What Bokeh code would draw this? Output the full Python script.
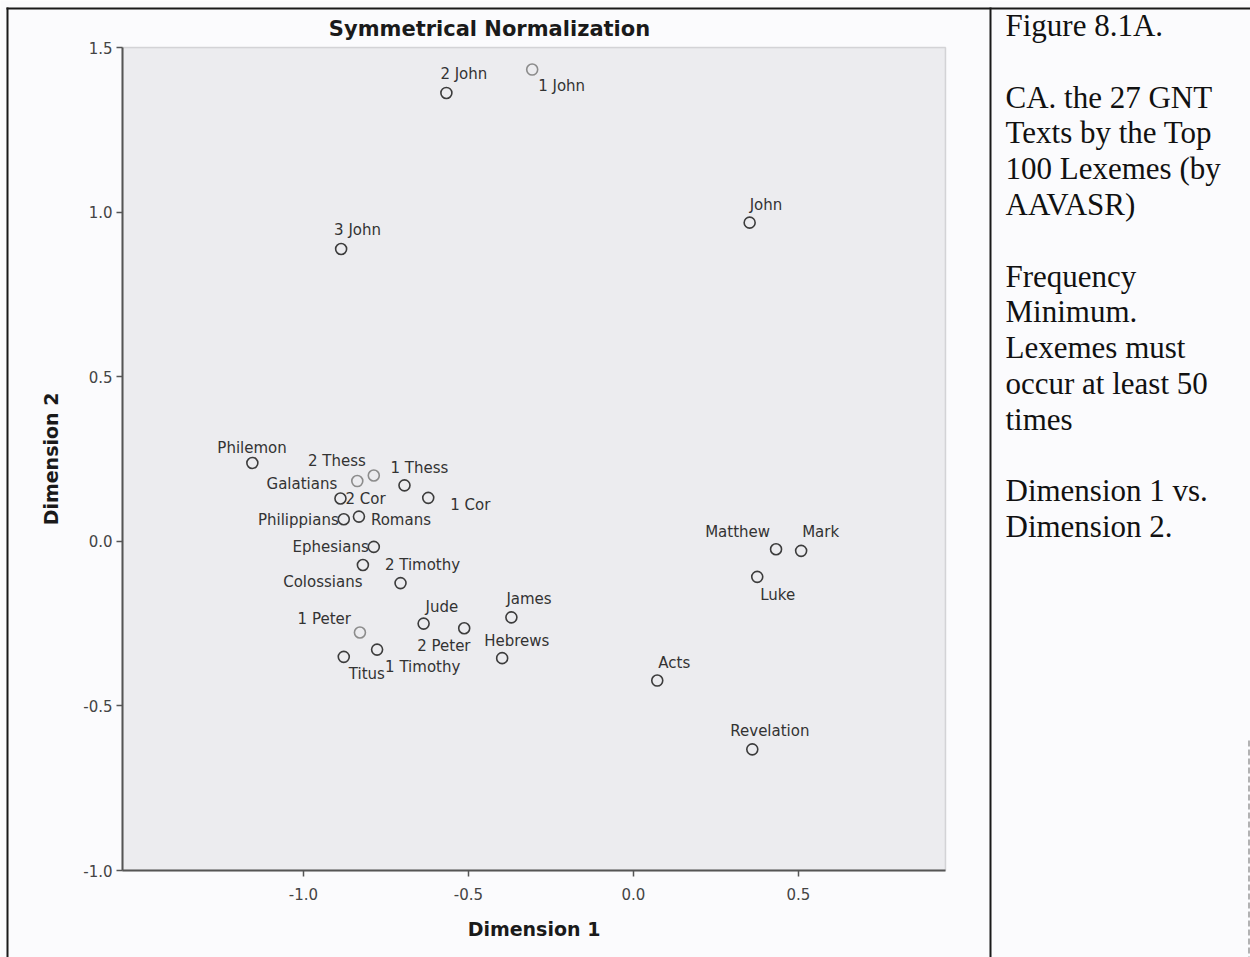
from bokeh.plotting import figure
from bokeh.models import (ColumnDataSource, Range1d, FixedTicker, PrintfTickFormatter,
                          LinearAxis, BoxAnnotation)
from bokeh.embed import file_html
from bokeh.resources import INLINE
from bokeh.core.properties import value

# Correspondence analysis: 27 GNT texts, row scores on dimensions 1 and 2
books = ["1 John", "2 John", "3 John", "John", "Philemon", "2 Thess", "Galatians",
         "1 Thess", "2 Cor", "1 Cor", "Philippians", "Romans", "Ephesians",
         "2 Timothy", "Colossians", "Jude", "2 Peter", "1 Peter", "Titus",
         "1 Timothy", "James", "Hebrews", "Acts", "Matthew", "Mark", "Luke",
         "Revelation"]
dim1 = [-0.307, -0.567, -0.886, 0.352, -1.155, -0.787, -0.837,
        -0.694, -0.888, -0.622, -0.878, -0.832, -0.787,
        -0.820, -0.706, -0.636, -0.513, -0.829, -0.878,
        -0.777, -0.370, -0.398, 0.072, 0.432, 0.508, 0.375,
        0.360]
dim2 = [1.433, 1.362, 0.888, 0.968, 0.238, 0.200, 0.183,
        0.170, 0.130, 0.132, 0.067, 0.075, -0.017,
        -0.072, -0.127, -0.250, -0.264, -0.277, -0.351,
        -0.329, -0.231, -0.355, -0.423, -0.024, -0.029, -0.108,
        -0.632]

x_ticks = [-1.0, -0.5, 0.0, 0.5]
y_ticks = [-1.0, -0.5, 0.0, 0.5, 1.0, 1.5]
x_span = (-1.5485, 0.9455)      # extent of the plotting box, dimension 1
y_span = (-1.0, 1.5)            # extent of the plotting box, dimension 2

title = "Symmetrical Normalization"
caption = ["Figure 8.1A.", "", "CA. the 27 GNT", "Texts by the Top",
           "100 Lexemes (by", "AAVASR)", "", "Frequency", "Minimum.",
           "Lexemes must", "occur at least 50", "times", "",
           "Dimension 1 vs.", "Dimension 2."]

# label placement around each point: (align, dx px, dy px; +dy is downward)
label_place = {
    "1 John": ("left", 6, 16), "2 John": ("left", -6, -19), "3 John": ("left", -7, -19),
    "John": ("left", 0, -18), "Philemon": ("left", -35, -15), "2 Thess": ("right", -8, -14),
    "Galatians": ("right", -20, 3), "1 Thess": ("left", -14, -17), "2 Cor": ("left", 5, 0),
    "1 Cor": ("left", 22, 7), "Philippians": ("right", -5, 1), "Romans": ("left", 12, 3),
    "Ephesians": ("right", -5, 0), "2 Timothy": ("left", 22, 0), "Colossians": ("right", -38, -1),
    "Jude": ("left", 2, -17), "2 Peter": ("left", -47, 18), "1 Peter": ("right", -9, -13),
    "Titus": ("left", 5, 17), "1 Timothy": ("left", 8, 17), "James": ("left", -5, -18),
    "Hebrews": ("left", -18, -17), "Acts": ("left", 1, -18), "Matthew": ("right", -6, -17),
    "Mark": ("left", 1, -19), "Luke": ("left", 3, 18), "Revelation": ("left", -22, -18),
}
faint = {"1 John", "2 Thess", "Galatians", "1 Peter"}

PAGE = "#fbfbfd"
INK = "#1a1a1a"
SANS = "DejaVu Sans"

# page geometry in canvas pixels: the plotting box sits at (BL..BR, BT..BB)
W, H = 1250, 957
BL, BT, BOX = 122, 47, 823
BR, BB = BL + BOX, BT + BOX

# the figure's frame covers the whole page; extend the data ranges accordingly
kx = (x_span[1] - x_span[0]) / BOX
ky = (y_span[1] - y_span[0]) / BOX
x_range = Range1d(x_span[0] - BL * kx, x_span[1] + (W - BR) * kx)
y_range = Range1d(y_span[0] - (H - BB) * ky, y_span[1] + BT * ky)

p = figure(width=W, height=H, x_range=x_range, y_range=y_range, min_border=0,
           x_axis_location=None, y_axis_location=None,
           toolbar_location=None, output_backend="svg")
p.background_fill_color = PAGE
p.border_fill_color = PAGE
p.outline_line_color = None
p.grid.visible = False

# page-pixel coordinate system for the page furniture
p.extra_x_ranges = {"px": Range1d(0, W)}
p.extra_y_ranges = {"py": Range1d(H, 0)}

# plotting box
p.add_layout(BoxAnnotation(left=x_span[0], right=x_span[1], bottom=y_span[0], top=y_span[1],
                           fill_color="#ececef", fill_alpha=1.0,
                           line_color="#8a8a8a", line_width=1.5, level="underlay"))

xax = LinearAxis(fixed_location=y_span[0], bounds=x_span, axis_label="Dimension 1")
yax = LinearAxis(fixed_location=x_span[0], bounds=y_span, axis_label="Dimension 2")
for ax, ticks in ((xax, x_ticks), (yax, y_ticks)):
    ax.ticker = FixedTicker(ticks=ticks)
    ax.formatter = PrintfTickFormatter(format="%.1f")
    ax.minor_tick_line_color = None
    ax.major_tick_in = 0
    ax.major_tick_out = 6
    ax.major_tick_line_color = "#555555"
    ax.major_tick_line_width = 1.5
    ax.axis_line_color = "#555555"
    ax.axis_line_width = 2
    ax.major_label_text_font = SANS
    ax.major_label_text_font_size = "15px"
    ax.major_label_text_color = "#444444"
    ax.axis_label_text_font = SANS
    ax.axis_label_text_font_style = "bold"
    ax.axis_label_text_font_size = "19px"
    ax.axis_label_text_color = INK
xax.major_label_standoff = 11
xax.axis_label_standoff = 15
yax.major_label_standoff = 4
yax.axis_label_standoff = 18
p.add_layout(xax, "below")
p.add_layout(yax, "left")

src = ColumnDataSource(dict(
    x=dim1, y=dim2, name=books,
    color=["#8c8c8c" if b in faint else "#3c3c3c" for b in books],
))
p.scatter("x", "y", source=src, marker="circle", size=11, fill_color=None,
          line_color="color", line_width=1.6)

for align in ("left", "right"):
    sel = [i for i, b in enumerate(books) if label_place[b][0] == align]
    lab = ColumnDataSource(dict(
        x=[dim1[i] for i in sel], y=[dim2[i] for i in sel],
        text=[books[i] for i in sel],
        dx=[label_place[books[i]][1] for i in sel],
        dy=[label_place[books[i]][2] for i in sel],
    ))
    p.text("x", "y", text="text", source=lab, x_offset="dx", y_offset="dy",
           text_align=align, text_baseline="middle",
           text_font=value(SANS), text_font_size="15px", text_color="#333333")

# chart title
p.text(x=[489], y=[28], text=[title], x_range_name="px", y_range_name="py",
       text_align="center", text_baseline="middle", text_font=value(SANS),
       text_font_style="bold", text_font_size="21px", text_color=INK)

# page rules: outer box, divider between chart and caption
p.segment(x0=[7, 6, 990], y0=[7, 8, 7], x1=[7, W, 990], y1=[H, 8, H],
          x_range_name="px", y_range_name="py", line_color=INK, line_width=2)
p.segment(x0=[1248.5], y0=[740], x1=[1248.5], y1=[H], x_range_name="px", y_range_name="py",
          line_color="#9a9a9a", line_width=1.5, line_dash="6 3")

# caption column
rows = [(i, s) for i, s in enumerate(caption) if s]
p.text(x=[1005] * len(rows), y=[25 + 35.8 * i for i, _ in rows], text=[s for _, s in rows],
       x_range_name="px", y_range_name="py", text_align="left", text_baseline="middle",
       text_font=value("Liberation Serif"), text_font_size="31px", text_color="#111111")

open("out.html", "w").write(file_html(p, INLINE))
